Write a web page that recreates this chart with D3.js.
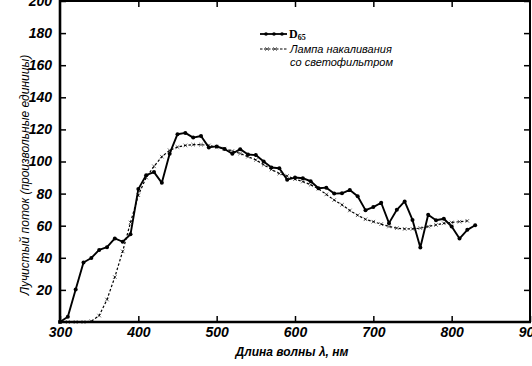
<!DOCTYPE html>
<html><head><meta charset="utf-8">
<script src="https://cdn.jsdelivr.net/npm/d3@7"></script>
<style>
html,body{margin:0;padding:0;background:#fff;}
svg{display:block;}
.tick text{font-family:"Liberation Sans",sans-serif;font-weight:bold;font-style:italic;}
</style></head>
<body><svg id="c" width="532" height="366"></svg>
<script>
const d65Wavelengths = [300,310,320,330,340,350,360,370,380,390,400,410,420,430,440,450,460,470,480,490,500,510,520,530,540,550,560,570,580,590,600,610,620,630,640,650,660,670,680,690,700,710,720,730,740,750,760,770,780,790,800,810,820,830];
const d65Values = [0.03,3.3,20.2,37.1,39.9,44.9,46.6,52.1,50.0,54.6,82.8,91.5,93.4,86.7,104.9,117.0,117.8,114.9,115.9,108.8,109.4,107.8,104.8,107.7,104.4,104.0,100.0,96.3,95.8,88.7,90.0,89.6,87.7,83.3,83.7,80.0,80.2,82.3,78.3,69.7,71.6,74.3,61.6,69.9,75.1,63.6,46.4,66.8,63.4,64.3,59.5,52.0,57.4,60.3];
const lampWavelengths = [300,310,320,330,340,350,360,370,380,390,400,410,420,430,440,450,460,470,480,490,500,510,520,530,540,550,560,570,580,590,600,610,620,630,640,650,660,670,680,690,700,710,720,730,740,750,760,770,780,790,800,810,820];
const lampValues = [0,0,0,0,0.5,4,14,28,44,62,79,90,97,103,107,109,110,110.5,110.5,110,109,108,106.5,105,103,101,98,95,92.5,91,89,87.5,85.5,83,79.5,76,73,69.5,66.5,64,62.5,61,59.5,58.5,58,58,58.5,59.5,60.5,61.5,62,62.5,63];
const xTicks = [300,400,500,600,700,800,900];
const yTicks = [20,40,60,80,100,120,140,160,180,200];
const legendLabels = ["D","Лампа накаливания","со светофильтром"];

const svg = d3.select("#c");
const x = d3.scaleLinear().domain([300,900]).range([60,530]);
const y = d3.scaleLinear().domain([0,200]).range([322,1]);

// frame
svg.append("line").attr("x1",60).attr("x2",60).attr("y1",0).attr("y2",323).attr("stroke","#000").attr("stroke-width",2.6);
svg.append("line").attr("x1",59).attr("x2",531).attr("y1",322).attr("y2",322).attr("stroke","#000").attr("stroke-width",2.4);
svg.append("line").attr("x1",59).attr("x2",531).attr("y1",1).attr("y2",1).attr("stroke","#000").attr("stroke-width",2);
svg.append("line").attr("x1",530).attr("x2",530).attr("y1",0).attr("y2",323).attr("stroke","#000").attr("stroke-width",2);

// axes
const xAx = svg.append("g").attr("transform","translate(0,322)")
  .call(d3.axisBottom(x).tickValues(xTicks).tickSize(-6).tickPadding(5).tickFormat(d3.format("d")));
xAx.select(".domain").remove();
xAx.selectAll(".tick line").attr("stroke-width",1.5);
xAx.selectAll(".tick text").attr("font-size",14).attr("fill","#000");

const xTop = svg.append("g").attr("transform","translate(0,1)")
  .call(d3.axisTop(x).tickValues(xTicks.slice(1,6)).tickSize(-6).tickFormat(""));
xTop.select(".domain").remove();
xTop.selectAll(".tick line").attr("stroke-width",1.5);

const yAx = svg.append("g").attr("transform","translate(60,0)")
  .call(d3.axisLeft(y).tickValues(yTicks).tickSize(-6).tickPadding(8).tickFormat(d3.format("d")));
yAx.select(".domain").remove();
yAx.selectAll(".tick line").attr("stroke-width",1.5);
yAx.selectAll(".tick text").attr("font-size",14).attr("fill","#000");

const yR = svg.append("g").attr("transform","translate(530,0)")
  .call(d3.axisRight(y).tickValues(yTicks).tickSize(-6).tickFormat(""));
yR.select(".domain").remove();
yR.selectAll(".tick line").attr("stroke-width",1.5);

// lamp series
const lamp = lampWavelengths.map((w,i)=>[w,lampValues[i]]);
const line = d3.line().x(d=>x(d[0])).y(d=>y(d[1]));
svg.append("path").datum(lamp).attr("d",line).attr("fill","none").attr("stroke","#000")
  .attr("stroke-width",1.2).attr("stroke-dasharray","2.5,2");
const xm = d3.symbol().type(d3.symbolTimes).size(10);
svg.selectAll(".lm").data(lamp).join("path").attr("class","lm")
  .attr("transform",d=>`translate(${x(d[0])},${y(d[1])})`).attr("d",xm)
  .attr("fill","#000").attr("stroke","#000").attr("stroke-width",0.6);

// D65 series
const d65 = d65Wavelengths.map((w,i)=>[w,d65Values[i]]);
svg.append("path").datum(d65).attr("d",line).attr("fill","none").attr("stroke","#000")
  .attr("stroke-width",1.9).attr("stroke-linejoin","round");
svg.selectAll(".dm").data(d65).join("circle").attr("class","dm")
  .attr("cx",d=>x(d[0])).attr("cy",d=>y(d[1])).attr("r",2).attr("fill","#000");

// legend
const lg = svg.append("g");
lg.append("line").attr("x1",260).attr("x2",287).attr("y1",34).attr("y2",34).attr("stroke","#000").attr("stroke-width",1.8);
[266,274,282].forEach(cx=>lg.append("circle").attr("cx",cx).attr("cy",34).attr("r",1.8).attr("fill","#000"));
const t1 = lg.append("text").attr("x",289).attr("y",38).attr("font-family","Liberation Serif, serif").attr("font-weight","bold").attr("font-size",12).text(legendLabels[0]);
t1.append("tspan").attr("font-size",8).attr("dy",2).text("65");
lg.append("line").attr("x1",260).attr("x2",287).attr("y1",49).attr("y2",49).attr("stroke","#000").attr("stroke-width",1.1).attr("stroke-dasharray","2.5,1.5");
[267,275].forEach(cx=>lg.append("path").attr("transform",`translate(${cx},49)`).attr("d",xm).attr("fill","#000").attr("stroke","#000").attr("stroke-width",0.6));
lg.append("text").attr("x",290).attr("y",53).attr("font-family","Liberation Sans, sans-serif").attr("font-style","italic").attr("font-size",11).text(legendLabels[1]);
lg.append("text").attr("x",290).attr("y",66).attr("font-family","Liberation Sans, sans-serif").attr("font-style","italic").attr("font-size",11).text(legendLabels[2]);

// axis titles
svg.append("text").attr("x",292).attr("y",356).attr("text-anchor","middle")
  .attr("font-family","Liberation Sans, sans-serif").attr("font-style","italic").attr("font-size",12).attr("font-weight","bold")
  .text("Длина волны λ, нм");
svg.append("text").attr("transform","translate(29,175) rotate(-90)").attr("text-anchor","middle")
  .attr("font-family","Liberation Sans, sans-serif").attr("font-style","italic").attr("font-size",12)
  .text("Лучистый поток (произвольные единицы)");
</script></body></html>
